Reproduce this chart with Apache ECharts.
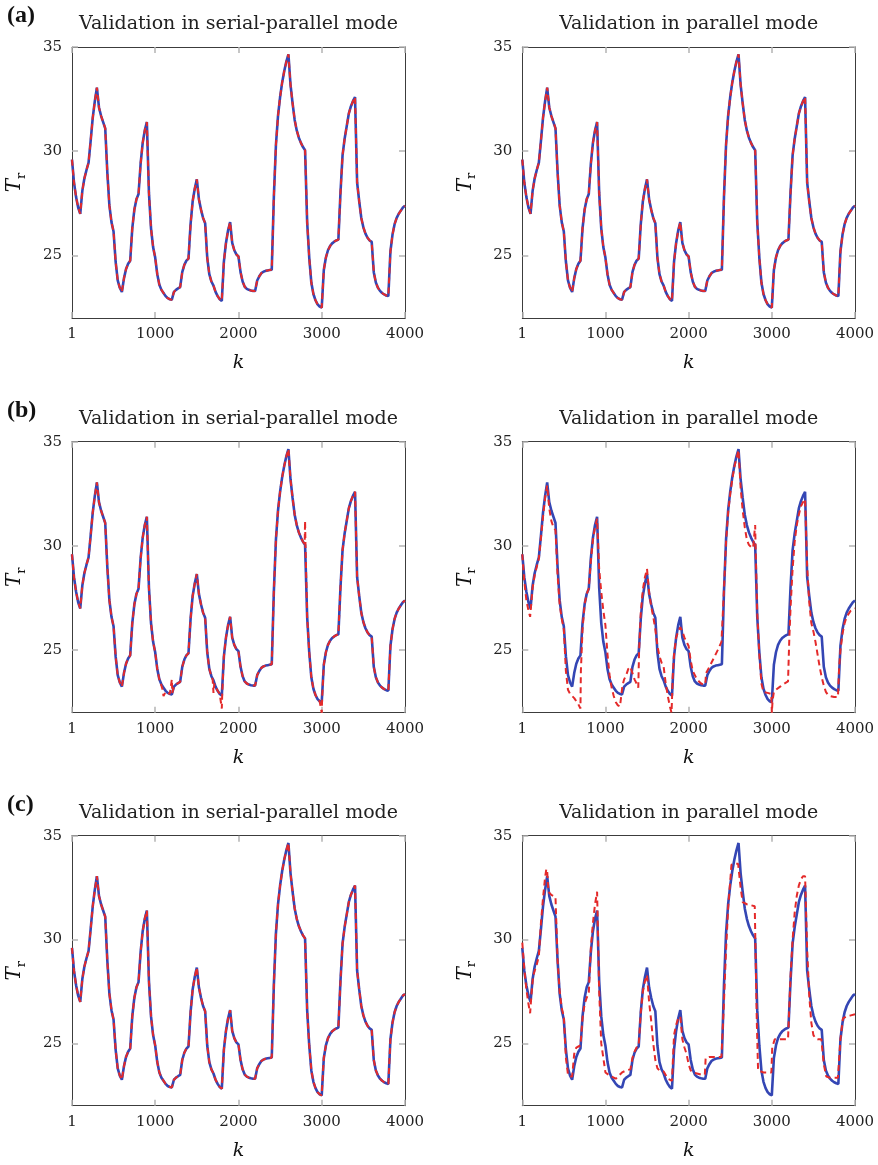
<!DOCTYPE html>
<html>
<head>
<meta charset="utf-8">
<script src="https://cdn.jsdelivr.net/npm/echarts@6/dist/echarts.min.js"></script>
<style>
  html, body { margin: 0; padding: 0; background: #fff; }
  #chart { width: 878px; height: 1165px; }
</style>
</head>
<body>
<div id="chart"></div>
<script>
// tick labels and texts
const xTicks = [1, 1000, 2000, 3000, 4000];
const yTicks = [25, 30, 35];
const panelTitles = ['Validation in serial-parallel mode', 'Validation in parallel mode'];
const rowLabels = ['(a)', '(b)', '(c)'];

// measured T_r (blue, solid) - same in every panel
const measured = [
  [1,29.6],[25,28.5],[50,27.8],[75,27.3],[100,27.0],
  [125,28.1],[150,28.7],[175,29.1],[200,29.45],
  [225,30.5],[250,31.6],[275,32.4],[300,33.05],
  [325,32.1],[350,31.7],[375,31.4],[400,31.1],
  [425,29.0],[450,27.4],[475,26.6],[500,26.15],
  [525,24.7],[550,23.8],[575,23.45],[600,23.25],
  [625,23.9],[650,24.35],[675,24.6],[700,24.75],
  [725,26.3],[750,27.2],[775,27.7],[800,27.95],
  [825,29.4],[850,30.4],[875,31.0],[900,31.4],
  [925,28.0],[950,26.3],[975,25.4],[1000,24.9],
  [1025,24.1],[1050,23.6],[1075,23.35],[1100,23.2],
  [1125,23.05],[1150,22.95],[1175,22.9],[1200,22.88],
  [1225,23.25],[1250,23.35],[1275,23.42],[1300,23.48],
  [1325,24.2],[1350,24.55],[1375,24.75],[1400,24.85],
  [1425,26.5],[1450,27.6],[1475,28.2],[1500,28.65],
  [1525,27.7],[1550,27.2],[1575,26.8],[1600,26.55],
  [1625,24.9],[1650,24.1],[1675,23.75],[1700,23.55],
  [1725,23.25],[1750,23.05],[1775,22.9],[1800,22.82],
  [1825,24.7],[1850,25.6],[1875,26.2],[1900,26.6],
  [1925,25.6],[1950,25.25],[1975,25.05],[2000,24.95],
  [2025,24.2],[2050,23.75],[2075,23.5],[2100,23.4],
  [2125,23.35],[2150,23.32],[2175,23.3],[2200,23.3],
  [2225,23.8],[2250,24.0],[2275,24.15],[2300,24.22],
  [2325,24.26],[2350,24.28],[2375,24.3],[2400,24.32],
  [2425,27.8],[2450,30.3],[2475,31.7],[2500,32.6],
  [2525,33.3],[2550,33.85],[2575,34.3],[2600,34.65],
  [2625,33.2],[2650,32.3],[2675,31.5],[2700,31.0],
  [2725,30.65],[2750,30.4],[2775,30.2],[2800,30.05],
  [2825,26.6],[2850,24.9],[2875,23.7],[2900,23.15],
  [2925,22.85],[2950,22.65],[2975,22.55],[3000,22.5],
  [3025,24.3],[3050,24.9],[3075,25.25],[3100,25.45],
  [3125,25.58],[3150,25.66],[3175,25.72],[3200,25.76],
  [3225,28.0],[3250,29.8],[3275,30.6],[3300,31.2],
  [3325,31.8],[3350,32.15],[3375,32.4],[3400,32.6],
  [3425,28.5],[3450,27.6],[3475,26.8],[3500,26.35],
  [3525,26.05],[3550,25.85],[3575,25.72],[3600,25.65],
  [3625,24.2],[3650,23.7],[3675,23.45],[3700,23.3],
  [3725,23.2],[3750,23.13],[3775,23.08],[3800,23.05],
  [3825,25.2],[3850,26.0],[3875,26.5],[3900,26.8],
  [3925,27.0],[3950,27.15],[3975,27.3],[4000,27.38]
];

// model (b), serial-parallel mode: follows the data with a few spikes
const modelBsp = [
  [1,29.6],[25,28.5],[50,27.8],[75,27.3],[100,27.0],
  [125,28.1],[150,28.7],[175,29.1],[200,29.45],
  [225,30.5],[250,31.6],[275,32.4],[300,33.05],
  [325,32.1],[350,31.7],[375,31.4],[400,31.1],
  [425,29.0],[450,27.4],[475,26.6],[500,26.15],
  [525,24.7],[550,23.8],[575,23.45],[600,23.25],
  [625,23.9],[650,24.35],[675,24.6],[700,24.75],
  [725,26.3],[750,27.2],[775,27.7],[800,27.95],
  [825,29.4],[850,30.4],[875,31.0],[900,31.4],
  [925,28.0],[950,26.3],[975,25.4],[1000,24.9],
  [1025,24.1],[1050,23.6],[1075,23.3],[1090,23.1],[1100,22.8],
  [1125,23.0],[1150,22.95],[1175,22.9],[1195,22.88],[1200,23.6],[1205,22.95],
  [1225,23.25],[1250,23.35],[1275,23.42],[1300,23.48],
  [1325,24.2],[1350,24.55],[1375,24.75],[1400,24.85],
  [1425,26.5],[1450,27.6],[1475,28.2],[1500,28.65],
  [1525,27.7],[1550,27.2],[1575,26.8],[1600,26.55],
  [1625,24.9],[1650,24.1],[1675,23.75],[1690,23.6],[1700,22.95],[1710,23.4],
  [1725,23.25],[1750,23.05],[1775,22.9],[1795,22.85],[1800,22.2],[1805,22.9],
  [1825,24.7],[1850,25.6],[1875,26.2],[1900,26.6],
  [1925,25.6],[1950,25.25],[1975,25.05],[2000,24.95],
  [2025,24.2],[2050,23.75],[2075,23.5],[2100,23.4],
  [2125,23.35],[2150,23.32],[2175,23.3],[2200,23.3],
  [2225,23.8],[2250,24.0],[2275,24.15],[2300,24.22],
  [2325,24.26],[2350,24.28],[2375,24.3],[2400,24.32],
  [2425,27.8],[2450,30.3],[2475,31.7],[2500,32.6],
  [2525,33.3],[2550,33.85],[2575,34.3],[2600,34.65],
  [2625,33.2],[2650,32.3],[2675,31.5],[2700,31.0],
  [2725,30.65],[2750,30.4],[2775,30.2],[2795,30.1],[2800,31.2],[2805,30.05],
  [2825,26.6],[2850,24.9],[2875,23.7],[2900,23.15],
  [2925,22.85],[2950,22.65],[2975,22.55],[2995,22.5],[3000,22.0],[3005,22.7],
  [3025,24.3],[3050,24.9],[3075,25.25],[3100,25.45],
  [3125,25.58],[3150,25.66],[3175,25.72],[3200,25.76],
  [3225,28.0],[3250,29.8],[3275,30.6],[3300,31.2],
  [3325,31.8],[3350,32.15],[3375,32.4],[3400,32.6],
  [3425,28.5],[3450,27.6],[3475,26.8],[3500,26.35],
  [3525,26.05],[3550,25.85],[3575,25.72],[3600,25.65],
  [3625,24.2],[3650,23.7],[3675,23.45],[3700,23.3],
  [3725,23.2],[3750,23.13],[3775,23.08],[3800,23.05],
  [3825,25.2],[3850,26.0],[3875,26.5],[3900,26.8],
  [3925,27.0],[3950,27.15],[3975,27.3],[4000,27.38]
];

// model (b), parallel mode
const modelBpar = [
  [1,29.6],[25,28.3],[50,27.4],[75,26.9],[95,26.6],[110,27.3],[125,28.0],[150,28.6],[175,29.0],[200,29.4],
  [225,30.4],[250,31.4],[275,32.3],[300,32.9],[325,31.8],[350,31.2],[375,30.9],[400,30.75],
  [425,28.6],[450,27.2],[475,26.5],[500,26.0],[525,24.0],[550,23.1],[575,22.9],[600,22.8],
  [625,22.7],[650,22.55],[675,22.4],[700,22.2],[705,24.0],[725,26.0],[750,27.2],[775,27.7],[800,27.95],
  [825,29.3],[850,30.3],[875,30.9],[900,31.3],[925,28.9],[950,27.8],[975,26.9],[1000,26.2],
  [1025,24.8],[1050,23.8],[1075,23.2],[1100,22.8],[1125,22.5],[1150,22.35],[1175,22.3],[1195,22.25],
  [1205,23.3],[1225,23.6],[1250,23.8],[1275,24.1],[1300,24.2],[1325,23.9],[1350,23.6],[1375,23.4],[1395,23.2],
  [1405,25.0],[1425,26.8],[1450,27.9],[1475,28.5],[1500,28.9],[1525,27.8],[1550,27.1],[1575,26.6],[1600,26.0],
  [1625,25.2],[1650,24.7],[1675,24.4],[1700,24.2],[1725,23.4],[1750,22.8],[1775,22.3],[1795,22.0],
  [1810,23.8],[1825,24.8],[1850,25.6],[1875,25.9],[1900,26.1],[1925,25.9],[1950,25.6],[1975,25.4],[2000,25.2],
  [2025,24.5],[2050,24.0],[2075,23.8],[2100,23.6],[2125,23.5],[2150,23.4],[2175,23.35],[2200,23.35],
  [2210,23.9],[2250,24.2],[2300,24.6],[2350,25.0],[2395,25.4],
  [2425,27.9],[2450,30.2],[2475,31.6],[2500,32.5],[2525,33.2],[2550,33.8],[2575,34.2],[2600,34.6],
  [2625,32.8],[2650,31.7],[2675,30.9],[2700,30.3],[2725,30.05],[2750,29.95],[2775,29.9],[2795,29.85],
  [2800,31.0],[2805,30.0],[2825,26.8],[2850,24.8],[2875,23.4],[2900,23.0],[2950,22.95],[2995,22.9],
  [3000,22.0],[3010,22.6],[3025,23.0],[3050,23.1],[3100,23.25],[3150,23.4],[3195,23.5],
  [3210,25.5],[3225,27.0],[3250,28.9],[3275,30.2],[3300,31.0],[3325,31.5],[3350,31.9],[3375,32.1],[3400,32.25],
  [3425,29.0],[3450,27.3],[3475,26.3],[3500,25.9],[3525,25.4],[3550,24.8],[3575,24.2],[3600,23.7],
  [3625,23.3],[3650,23.0],[3675,22.85],[3700,22.8],[3750,22.75],[3795,22.75],
  [3810,24.2],[3825,25.0],[3850,25.8],[3875,26.3],[3900,26.6],[3950,26.9],[4000,27.0]
];

// model (c), parallel mode
const modelCpar = [
  [1,29.85],[25,28.6],[50,27.6],[75,26.9],[95,26.45],[110,27.3],[130,28.2],[150,28.5],[175,28.8],[200,29.2],
  [225,30.8],[250,32.0],[275,33.0],[290,33.4],[300,33.3],[315,32.3],[350,32.15],[400,32.05],
  [425,29.0],[450,27.5],[475,26.7],[500,26.3],[525,24.3],[550,23.5],[575,23.4],[600,23.4],
  [625,24.5],[650,24.8],[675,24.85],[700,24.9],[725,26.2],[750,26.9],[775,27.2],[800,27.4],
  [825,29.6],[850,30.8],[875,31.7],[900,32.3],[925,27.5],[950,25.0],[975,24.3],[1000,23.6],
  [1050,23.45],[1100,23.35],[1125,23.3],[1150,23.4],[1200,23.6],[1250,23.7],[1300,23.75],
  [1325,24.3],[1350,24.6],[1375,24.8],[1400,24.9],[1425,26.5],[1450,27.5],[1475,28.0],[1500,28.3],
  [1525,27.0],[1550,26.1],[1575,25.0],[1600,24.2],[1625,23.8],[1650,23.7],[1700,23.65],[1750,23.3],[1800,23.2],
  [1825,25.4],[1850,25.9],[1875,26.2],[1900,26.3],[1925,25.2],[1950,24.8],[1975,24.5],[2000,24.0],
  [2025,23.7],[2050,23.6],[2100,23.55],[2150,23.5],[2195,23.5],[2205,24.3],[2250,24.35],[2300,24.35],[2395,24.35],
  [2425,27.0],[2450,29.5],[2475,31.5],[2500,32.8],[2515,33.6],[2550,33.65],[2595,33.65],
  [2625,32.5],[2650,31.8],[2700,31.7],[2750,31.65],[2795,31.6],[2820,26.0],[2835,23.7],[2900,23.6],[2995,23.6],
  [3005,24.8],[3035,25.2],[3100,25.2],[3195,25.2],[3225,28.2],[3250,30.0],[3275,31.3],[3300,32.1],
  [3325,32.6],[3350,32.9],[3375,33.05],[3400,33.05],[3425,29.5],[3450,27.3],[3475,26.0],[3500,25.4],
  [3525,25.25],[3550,25.2],[3595,25.2],[3625,24.0],[3655,23.4],[3700,23.35],[3795,23.35],
  [3825,25.2],[3855,26.2],[3900,26.3],[3950,26.35],[4000,26.4]
];

// red curves per panel: [serial-parallel, parallel]
const modelRows = [
  [measured, measured],   // (a) model output lies on the data
  [modelBsp, modelBpar],
  [measured, modelCpar]
];

const chart = echarts.init(document.getElementById('chart'));

const serif = 'DejaVu Serif';
const frameColor = '#3c3c3c';
const tickColor = '#b4b4b4';
const blue = '#3446b4';
const red = '#e42a2a';

const colLeft = [72, 522.3];
const colWidth = [333, 332.7];
const rowTop = [47, 441.7, 835.7];
const rowHeight = [271, 271, 270];
const titleY = [24, 419, 813];
const labelY = [16, 411, 805];

let grids = [], xAxes = [], yAxes = [], series = [], graphics = [];

for (let r = 0; r < 3; r++) {
  graphics.push({
    type: 'text', x: 7, y: labelY[r], silent: true,
    style: { text: rowLabels[r], fontFamily: 'Liberation Serif', fontWeight: 'bold', fontSize: 24,
      fill: '#111', align: 'left', verticalAlign: 'middle' }
  });
  for (let c = 0; c < 2; c++) {
    const g = r * 2 + c;
    grids.push({ left: colLeft[c], top: rowTop[r], width: colWidth[c], height: rowHeight[r] });

    graphics.push({
      type: 'text', x: colLeft[c] + colWidth[c] / 2, y: titleY[r], silent: true,
      style: { text: panelTitles[c], fontFamily: serif, fontSize: 19, fill: '#222',
        align: 'center', verticalAlign: 'middle' }
    });

    ['bottom', 'top'].forEach((pos, i) => {
      xAxes.push({
        gridIndex: g, type: 'value', min: 1, max: 4000, position: pos,
        axisLine: { show: true, onZero: false, lineStyle: { color: frameColor, width: 1 } },
        axisTick: { show: true, inside: true, length: 6, customValues: xTicks,
          lineStyle: { color: tickColor, width: 1.5 } },
        axisLabel: { show: i === 0, customValues: xTicks, margin: 9, fontFamily: serif,
          fontSize: 15, color: '#222', formatter: v => String(v) },
        splitLine: { show: false },
        name: i === 0 ? 'k' : '',
        nameLocation: 'middle', nameGap: 36,
        nameTextStyle: { fontFamily: serif, fontStyle: 'italic', fontSize: 19, color: '#111' }
      });
    });
    ['left', 'right'].forEach((pos, i) => {
      yAxes.push({
        gridIndex: g, type: 'value', min: 22, max: 35, position: pos,
        axisLine: { show: true, onZero: false, lineStyle: { color: frameColor, width: 1 } },
        axisTick: { show: true, inside: true, length: 6, customValues: yTicks,
          lineStyle: { color: tickColor, width: 1.5 } },
        axisLabel: { show: i === 0, customValues: yTicks, margin: 10, fontFamily: serif,
          fontSize: 15, color: '#222' },
        splitLine: { show: false },
        name: i === 0 ? '{t|T}{r|r}' : '',
        nameLocation: 'middle', nameGap: 44, nameRotate: 90,
        nameTextStyle: {
          rich: {
            t: { fontFamily: serif, fontStyle: 'italic', fontSize: 20, lineHeight: 26,
              verticalAlign: 'middle', color: '#111' },
            r: { fontFamily: serif, fontSize: 13, lineHeight: 12, verticalAlign: 'bottom', color: '#111' }
          }
        }
      });
    });

    series.push({
      type: 'line', xAxisIndex: 2 * g, yAxisIndex: 2 * g, data: measured,
      symbol: 'none', silent: true, z: 2,
      lineStyle: { color: blue, width: 2.6 }
    });
    series.push({
      type: 'line', xAxisIndex: 2 * g, yAxisIndex: 2 * g, data: modelRows[r][c],
      symbol: 'none', silent: true, z: 3,
      lineStyle: { color: red, width: 2, type: [6, 4] }
    });
  }
}

chart.setOption({
  animation: false,
  backgroundColor: '#fff',
  grid: grids,
  xAxis: xAxes,
  yAxis: yAxes,
  series: series,
  graphic: graphics
});
</script>
</body>
</html>
